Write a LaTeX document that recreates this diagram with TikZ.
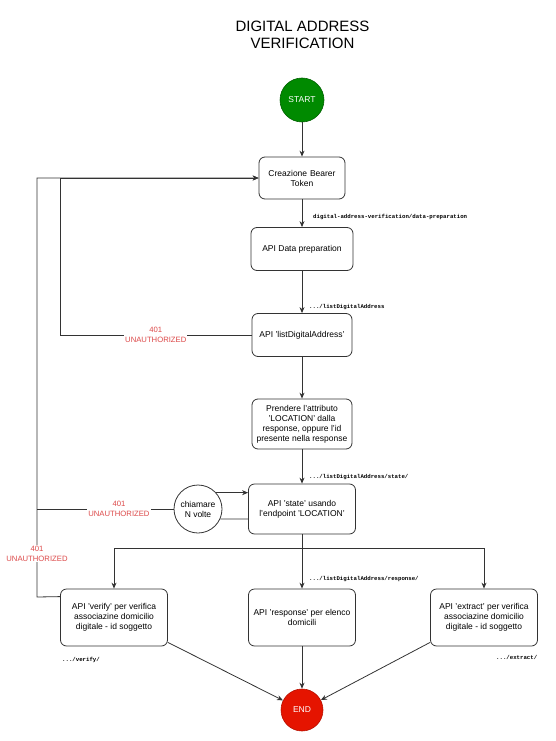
\documentclass[tikz,border=0pt]{standalone}
\usepackage{fontspec}
\setmainfont{Liberation Sans}
\setmonofont{Liberation Mono}
\usetikzlibrary{arrows.meta,calc}
\definecolor{startgreen}{HTML}{008A00}
\definecolor{endred}{HTML}{E51400}
\definecolor{errred}{HTML}{DD4A4A}
\definecolor{edgecol}{HTML}{333333}
\begin{document}
\begin{tikzpicture}[x=1pt,y=-1pt,
  box/.style={draw=edgecol, rounded corners=6pt, align=center, inner sep=0pt,
    font=\fontsize{8.5}{10}\selectfont, line width=0.8pt},
  term/.style={circle, inner sep=0pt, text=white, font=\fontsize{8.5}{10}\selectfont, line width=0.6pt},
  conn/.style={draw=edgecol, line width=0.8pt},
  arr/.style={conn, -{Stealth[length=6pt,width=5pt]}},
  errlbl/.style={fill=white, text=errred, font=\fontsize{7.7}{9.5}\selectfont, align=center, inner sep=1pt},
  mono/.style={font=\fontsize{5.7}{7}\selectfont\ttfamily\bfseries, inner sep=0pt, anchor=west}
]
\useasboundingbox (0,0) rectangle (555,741);

% title
\node[align=center, font=\fontsize{15}{17.5}\selectfont] (title) at (302.5,35) {DIGITAL ADDRESS\\VERIFICATION};

% nodes
\node[term, fill=startgreen, draw=startgreen!70!black, minimum size=44pt] (start) at (302,100) {START};
\node[box, minimum width=86pt, minimum height=42pt, text width=80pt] (crea) at (302,178) {Creazione Bearer\\Token};
\node[box, minimum width=102pt, minimum height=43pt] (prep) at (302,249) {API Data preparation};
\node[box, minimum width=100pt, minimum height=43pt] (listda) at (302,335) {API 'listDigitalAddress'};
\node[box, minimum width=100pt, minimum height=50pt] (prend) at (302,424) {Prendere l'attributo\\'LOCATION' dalla\\response, oppure l'id\\presente nella response};
\node[box, minimum width=107pt, minimum height=50pt] (state) at (302,509) {API 'state' usando\\l'endpoint 'LOCATION'};
\node[circle, draw=edgecol, line width=0.8pt, minimum size=48pt, inner sep=0pt, align=center, font=\fontsize{8.5}{10}\selectfont] (chiam) at (198,509) {chiamare\\N volte};
\node[box, minimum width=107pt, minimum height=57pt] (verify) at (114,617.5) {API 'verify' per verifica\\associazine domicilio\\digitale - id soggetto};
\node[box, minimum width=107pt, minimum height=57pt] (resp) at (302,617.5) {API 'response' per elenco\\domicili};
\node[box, minimum width=107pt, minimum height=57pt] (extr) at (484,617.5) {API 'extract' per verifica\\associazine domicilio\\digitale - id soggetto};
\node[term, fill=endred, draw=endred!80!black, minimum size=42pt] (endn) at (302,710) {END};

% path labels
\node[mono] (lprep) at (313,217) {digital-address-verification/data-preparation};
\node[mono] (llist) at (309,307) {.../listDigitalAddress};
\node[mono] (lstate) at (309,477) {.../listDigitalAddress/state/};
\node[mono] (lresp) at (309,579) {.../listDigitalAddress/response/};
\node[mono] (lver) at (62,660) {.../verify/};
\node[mono] (lext) at (496,657) {.../extract/};

% coordinates
\coordinate (loopTop) at (37,178);
\coordinate (loopBot) at (37,597);
\coordinate (loopIn) at (60,335);
\coordinate (branch) at (302,548);

% main flow
\draw[arr] (start) -- (crea);
\draw[arr] (crea) -- (prep);
\draw[arr] (prep) -- (listda);
\draw[arr] (listda) -- (prend);
\draw[arr] (prend) -- (state);
\draw[arr] (state.south) -- (resp.north);
\draw[arr] (state.south) -- (branch) -| (verify.north);
\draw[arr] (branch) -| (extr.north);
\draw[arr] ($(verify.south east)+(0,-4)$) -- (endn);
\draw[arr] (resp) -- (endn);
\draw[arr] ($(extr.south west)+(0,-4)$) -- (endn);

% loops
\draw[arr] (chiam.42) -- (chiam.42 -| state.west);
\draw[conn] ($(state.west)+(0,10)$) -- (chiam.-24.6);

% unauthorized returns
\draw[arr] (listda.west) -- node[errlbl] {401\\UNAUTHORIZED} (loopIn) |- (crea.west);
\draw[conn] (chiam.west) -- node[pos=0.4, errlbl] {401\\UNAUTHORIZED} (chiam.west -| loopTop);
\draw[arr] ($(verify.north west)+(0,8)$) -- (loopBot) -- node[pos=0.103, errlbl] {401\\UNAUTHORIZED} (loopTop) -- (crea.west);
\end{tikzpicture}
\end{document}
